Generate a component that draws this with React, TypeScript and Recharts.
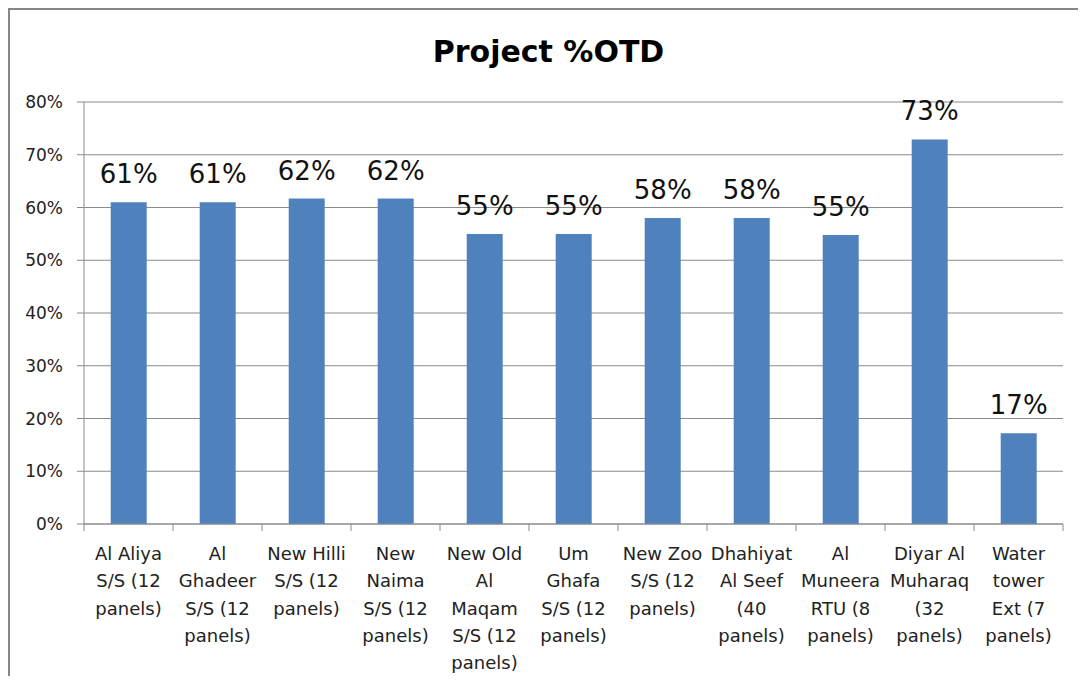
import { Bar, BarChart, CartesianGrid, LabelList, XAxis, YAxis } from "recharts";

const PROJECTS = [
  "Al Aliya S/S (12 panels)",
  "Al Ghadeer S/S (12 panels)",
  "New Hilli S/S (12 panels)",
  "New Naima S/S (12 panels)",
  "New Old Al Maqam S/S (12 panels)",
  "Um Ghafa S/S (12 panels)",
  "New Zoo S/S (12 panels)",
  "Dhahiyat Al Seef (40 panels)",
  "Al Muneera RTU (8 panels)",
  "Diyar Al Muharaq (32 panels)",
  "Water tower Ext (7 panels)",
];

// wrapped the way the source chart wraps them
const PROJECT_LINES = [
  ["Al Aliya", "S/S (12", "panels)"],
  ["Al", "Ghadeer", "S/S (12", "panels)"],
  ["New Hilli", "S/S (12", "panels)"],
  ["New", "Naima", "S/S (12", "panels)"],
  ["New Old", "Al", "Maqam", "S/S (12", "panels)"],
  ["Um", "Ghafa", "S/S (12", "panels)"],
  ["New Zoo", "S/S (12", "panels)"],
  ["Dhahiyat", "Al Seef", "(40", "panels)"],
  ["Al", "Muneera", "RTU (8", "panels)"],
  ["Diyar Al", "Muharaq", "(32", "panels)"],
  ["Water", "tower", "Ext (7", "panels)"],
];

const OTD = [0.61, 0.61, 0.617, 0.617, 0.55, 0.55, 0.58, 0.58, 0.548, 0.729, 0.172];

const Y_TICKS = [0, 0.1, 0.2, 0.3, 0.4, 0.5, 0.6, 0.7, 0.8];

const FONT = '"DejaVu Sans", sans-serif';
const LINE_COLOR = "#8a8a8a";
const BAR_COLOR = "#4f81bd";
const TICK_SIZE = 7;
const TICK_MARGIN = 2;

const data = PROJECTS.map((name, i) => ({ name, value: OTD[i] }));

const pct = (v: number) => `${Math.round(v * 100)}%`;

function ProjectTick(props: any) {
  const { x, y, payload, index } = props;
  const lines = PROJECT_LINES[index] ?? [String(payload.value)];
  const axisY = y - TICK_SIZE - TICK_MARGIN;
  const half = payload.offset ?? 0;
  return (
    <g>
      <line x1={x - half} x2={x - half} y1={axisY} y2={axisY + TICK_SIZE} stroke={LINE_COLOR} />
      {index === PROJECTS.length - 1 && (
        <line x1={x + half} x2={x + half} y1={axisY} y2={axisY + TICK_SIZE} stroke={LINE_COLOR} />
      )}
      <text x={x} y={y + 27} textAnchor="middle" fontSize={18} fontFamily={FONT} fill="#222">
        {lines.map((l, i) => (
          <tspan key={i} x={x} dy={i === 0 ? 0 : 27.3}>
            {l}
          </tspan>
        ))}
      </text>
    </g>
  );
}

export default function App() {
  return (
    <div
      style={{
        position: "relative",
        width: 1076,
        height: 666,
        borderTop: "2px solid #868686",
        borderLeft: "2px solid #868686",
        background: "#fff",
        fontFamily: FONT,
      }}
    >
      <svg width={1076} height={80} style={{ position: "absolute", left: 0, top: 0 }}>
        <text x={538.5} y={52} textAnchor="middle" fontSize={30} fontWeight="bold" fontFamily={FONT} fill="#000">
          Project %OTD
        </text>
      </svg>
      <BarChart
        width={1076}
        height={666}
        data={data}
        margin={{ top: 92, right: 23, bottom: 2, left: 14 }}
        barCategoryGap="30%"
      >
        <CartesianGrid vertical={false} stroke={LINE_COLOR} />
        <XAxis
          dataKey="name"
          interval={0}
          height={150}
          tickLine={false}
          tickSize={TICK_SIZE}
          tickMargin={TICK_MARGIN}
          axisLine={{ stroke: LINE_COLOR }}
          tick={<ProjectTick />}
        />
        <YAxis
          width={60}
          domain={[0, 0.8]}
          ticks={Y_TICKS}
          tickFormatter={pct}
          tickSize={TICK_SIZE}
          tickMargin={14}
          tickLine={{ stroke: LINE_COLOR }}
          axisLine={{ stroke: LINE_COLOR }}
          tick={{ fontSize: 17, fill: "#222", fontFamily: FONT }}
        />
        <Bar dataKey="value" fill={BAR_COLOR} isAnimationActive={false}>
          <LabelList
            dataKey="value"
            position="top"
            offset={19}
            formatter={(v: any) => pct(Number(v))}
            fontSize={26}
            fill="#111"
            fontFamily={FONT}
          />
        </Bar>
      </BarChart>
    </div>
  );
}
